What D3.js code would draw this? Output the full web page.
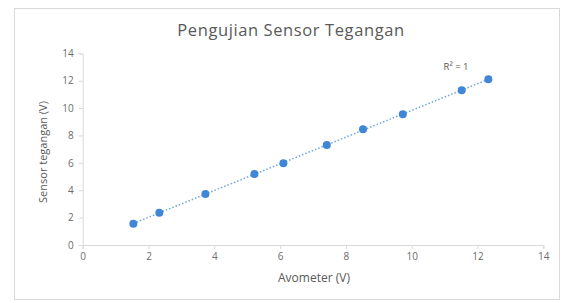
<!DOCTYPE html>
<html><head><meta charset="utf-8">
<script src="https://cdn.jsdelivr.net/npm/d3@7"></script>
<style>body{margin:0;background:#fff;} svg{display:block;font-family:"Open Sans",sans-serif;}</style>
</head><body>
<script>
const avometer = [1.54, 2.33, 3.73, 5.22, 6.10, 7.42, 8.52, 9.73, 11.52, 12.33];
const sensor   = [1.56, 2.36, 3.73, 5.19, 5.97, 7.30, 8.45, 9.55, 11.30, 12.10];
const xTicks = [0, 2, 4, 6, 8, 10, 12, 14];
const yTicks = [0, 2, 4, 6, 8, 10, 12, 14];
const title = "Pengujian Sensor Tegangan";
const xTitle = "Avometer (V)";
const yTitle = "Sensor tegangan (V)";
const r2Label = "R² = 1";

const W = 565, H = 303;
const FONT = "'Open Sans',sans-serif";
const svg = d3.select("body").append("svg").attr("width", W).attr("height", H);
svg.append("rect").attr("x", 14.5).attr("y", 8.5).attr("width", 545).attr("height", 291)
  .attr("fill", "#fff").attr("stroke", "#d9d9d9");

const x = d3.scaleLinear().domain([0, 14]).range([82.7, 543.3]);
const y = d3.scaleLinear().domain([0, 14]).range([245, 53.3]);

const gx = svg.append("g").attr("transform", `translate(0,${y(0)})`)
  .call(d3.axisBottom(x).tickValues(xTicks).tickSize(4).tickPadding(4).tickFormat(d3.format("d")));
const gy = svg.append("g").attr("transform", `translate(${x(0)},0)`)
  .call(d3.axisLeft(y).tickValues(yTicks).tickSize(4).tickPadding(5).tickFormat(d3.format("d")));
[gx, gy].forEach(g => {
  g.select(".domain").attr("stroke", "#d9d9d9");
  g.selectAll(".tick line").attr("stroke", "#d9d9d9");
  g.selectAll(".tick text").attr("fill", "#6b6b6b").style("font-size", "10px")
    .style("font-family", FONT);
});

// linear trendline
const data = avometer.map((v, i) => ({x: v, y: sensor[i]}));
const mx = d3.mean(data, d => d.x), my = d3.mean(data, d => d.y);
const slope = d3.sum(data, d => (d.x - mx) * (d.y - my)) / d3.sum(data, d => (d.x - mx) ** 2);
const icpt = my - slope * mx;
const x0 = d3.min(avometer), x1 = d3.max(avometer);
svg.append("line")
  .attr("x1", x(x0)).attr("y1", y(icpt + slope * x0))
  .attr("x2", x(x1)).attr("y2", y(icpt + slope * x1))
  .attr("stroke", "#6fa6dc").attr("stroke-width", 1.5).attr("stroke-dasharray", "1.5,2");

svg.selectAll("circle.pt").data(data).enter().append("circle").attr("class", "pt")
  .attr("cx", d => x(d.x)).attr("cy", d => y(d.y)).attr("r", 4)
  .attr("fill", "#3f86d6");

svg.append("text").attr("x", 456).attr("y", 70).attr("text-anchor", "middle")
  .attr("fill", "#595959").style("font-size", "9.5px").text(r2Label);

svg.append("text").attr("x", 291).attr("y", 36).attr("text-anchor", "middle")
  .attr("fill", "#595959").style("font-size", "16.5px").style("letter-spacing", "0.6px").text(title);
svg.append("text").attr("x", 314).attr("y", 282).attr("text-anchor", "middle")
  .attr("fill", "#595959").style("font-size", "12px").text(xTitle);
svg.append("text").attr("transform", "translate(47,152) rotate(-90)").attr("text-anchor", "middle")
  .attr("fill", "#595959").style("font-size", "11px").text(yTitle);
</script>
</body></html>
